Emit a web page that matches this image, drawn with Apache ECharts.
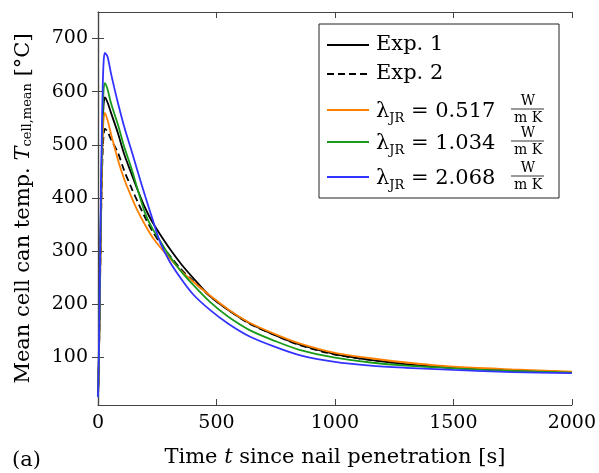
<!DOCTYPE html>
<html>
<head>
<meta charset="utf-8">
<script src="https://cdn.jsdelivr.net/npm/echarts@6/dist/echarts.min.js"></script>
<style>
  * { margin: 0; padding: 0; }
  body { background: #fff; }
  #main { width: 599px; height: 473px; }
</style>
</head>
<body>
<div id="main"></div>
<script>
// time since nail penetration [s]
var timeS = [0, 4, 8, 12, 16, 20, 24, 29, 40, 55, 84, 110, 140, 170, 200, 230, 261, 300, 350, 400, 470, 550, 640, 750, 850, 1000, 1150, 1300, 1500, 1750, 2000];
// mean cell can temperature [°C]
var exp1 = [25, 100, 230, 360, 465, 540, 578, 589, 580, 560, 522, 483, 447, 412, 380, 354, 332, 306, 276, 250, 216, 189, 164, 141, 124, 106, 95, 87, 80, 75, 72];
var exp2 = [25, 100, 220, 340, 430, 490, 520, 530, 525, 510, 485, 452, 420, 390, 362, 337, 316, 293, 266, 244, 216, 189, 163, 141, 123, 105, 95, 87, 80, 75, 72];
var lam0517 = [25, 100, 220, 340, 440, 515, 550, 560, 547, 520, 472, 436, 403, 373, 348, 326, 308, 288, 263, 243, 217, 190, 165, 143, 126, 108, 98, 90, 82, 77, 73];
var lam1034 = [25, 110, 240, 370, 480, 560, 605, 616, 605, 578, 538, 497, 457, 412, 370, 342, 320, 292, 262, 237, 205, 176, 151, 130, 114, 99, 90, 84, 79, 74, 71];
var lam2068 = [25, 120, 260, 400, 520, 610, 658, 673, 666, 634, 579, 535, 491, 446, 402, 360, 318, 282, 248, 219, 190, 163, 139, 119, 104, 91, 84, 80, 76, 72, 70];
var yTicks = [100, 200, 300, 400, 500, 600, 700];

var seriesNames = ['Exp. 1', 'Exp. 2', 'λ = 0.517', 'λ = 1.034', 'λ = 2.068'];
var seriesData = [exp1, exp2, lam0517, lam1034, lam2068];
var seriesColors = ['#000000', '#000000', '#ff8000', '#1a9a1a', '#3333ff'];
var lamValues = ['0.517', '1.034', '2.068'];

var FONT = 'DejaVu Serif';
var FS = 19;   // tick labels
var FT = 21;   // titles and legend
var axisColor = '#444';

function pairs(ys) {
  return timeS.map(function (t, i) { return [t, ys[i]]; });
}

var chart = echarts.init(document.getElementById('main'));

var series = seriesData.map(function (d, i) {
  return {
    name: seriesNames[i],
    type: 'line',
    data: pairs(d),
    showSymbol: false,
    smooth: 0.3,
    lineStyle: {
      color: seriesColors[i],
      width: 1.8,
      type: i === 1 ? [7, 4] : 'solid'
    },
    itemStyle: { color: seriesColors[i] },
    z: 2 + i
  };
});

// legend drawn as graphic (fractions in the labels)
var lg = [];
var rowY = [45, 74, 110, 142, 177];
lg.push({
  type: 'rect', shape: { x: 319, y: 24, width: 240, height: 174 },
  style: { fill: '#fff', stroke: '#222', lineWidth: 1 }, z: 10
});
rowY.forEach(function (y, i) {
  lg.push({
    type: 'line', shape: { x1: 327, y1: y, x2: 369, y2: y },
    style: { stroke: seriesColors[i], lineWidth: 1.8, lineDash: i === 1 ? [7, 4] : null }, z: 11
  });
  if (i < 2) {
    lg.push({
      type: 'text', x: 376, y: y, z: 11,
      style: { text: seriesNames[i], font: FT + 'px ' + FONT, fill: '#000', verticalAlign: 'middle' }
    });
  } else {
    lg.push({
      type: 'text', x: 376, y: y + 2, z: 11,
      style: {
        text: '{a|λ}{s|JR}{a| = ' + lamValues[i - 2] + '}',
        verticalAlign: 'middle',
        rich: {
          a: { fontFamily: FONT, fontSize: FT, fill: '#000', verticalAlign: 'bottom' },
          s: { fontFamily: FONT, fontSize: 13, fill: '#000', verticalAlign: 'bottom', padding: [0, 0, -3, 0] }
        }
      }
    });
    lg.push({
      type: 'text', x: 528, y: y - 9, z: 11,
      style: { text: 'W', font: '14px ' + FONT, fill: '#000', align: 'center', verticalAlign: 'middle' }
    });
    lg.push({
      type: 'line', shape: { x1: 511, y1: y - 1, x2: 544, y2: y - 1 },
      style: { stroke: '#000', lineWidth: 0.8 }, z: 11
    });
    lg.push({
      type: 'text', x: 528, y: y + 8, z: 11,
      style: { text: 'm K', font: '14px ' + FONT, fill: '#000', align: 'center', verticalAlign: 'middle' }
    });
  }
});
lg.push({
  type: 'text', x: 12, y: 461, z: 11,
  style: { text: '(a)', font: FT + 'px ' + FONT, fill: '#000', verticalAlign: 'middle' }
});

var labelStyle = { fontFamily: FONT, fontSize: FS, color: '#000' };

chart.setOption({
  animation: false,
  backgroundColor: '#fff',
  grid: { left: 98, right: 26, top: 12, bottom: 66, containLabel: false },
  xAxis: [{
    type: 'value', min: 0, max: 2000, interval: 500, position: 'bottom',
    name: 'Time {i|t} since nail penetration [s]',
    nameLocation: 'middle', nameGap: 42,
    nameTextStyle: {
      fontFamily: FONT, fontSize: FT, color: '#000',
      rich: { i: { fontFamily: FONT, fontSize: FT, fontStyle: 'italic', color: '#000' } }
    },
    axisLine: { show: true, lineStyle: { color: axisColor, width: 1.2 } },
    axisTick: { show: true, inside: true, length: 6, lineStyle: { color: axisColor } },
    axisLabel: Object.assign({ margin: 9, formatter: function (v) { return String(v); } }, labelStyle),
    splitLine: { show: false }
  }, {
    type: 'value', min: 0, max: 2000, interval: 500, position: 'top',
    axisLine: { show: true, lineStyle: { color: axisColor, width: 1.2 } },
    axisTick: { show: true, inside: true, length: 6, lineStyle: { color: axisColor } },
    axisLabel: { show: false },
    splitLine: { show: false }
  }],
  yAxis: [{
    type: 'value', min: 10, max: 750, position: 'left',
    name: 'Mean cell can temp. {i|T}{s|cell,mean} [°C]',
    nameLocation: 'middle', nameGap: 64, nameRotate: 90,
    nameTextStyle: {
      fontFamily: FONT, fontSize: FT, color: '#000',
      rich: {
        i: { fontFamily: FONT, fontSize: FT, fontStyle: 'italic', color: '#000' },
        s: { fontFamily: FONT, fontSize: 13, color: '#000', verticalAlign: 'bottom', padding: [7, 0, 0, 0] }
      }
    },
    axisLine: { show: true, lineStyle: { color: axisColor, width: 1.2 } },
    axisTick: { show: true, inside: true, length: 6, customValues: yTicks, lineStyle: { color: axisColor } },
    axisLabel: Object.assign({ margin: 10, customValues: yTicks }, labelStyle),
    splitLine: { show: false }
  }, {
    type: 'value', min: 10, max: 750, position: 'right',
    axisLine: { show: true, lineStyle: { color: axisColor, width: 1.2 } },
    axisTick: { show: true, inside: true, length: 6, customValues: yTicks, lineStyle: { color: axisColor } },
    axisLabel: { show: false, customValues: yTicks },
    splitLine: { show: false }
  }],
  graphic: lg,
  series: series
});
</script>
</body>
</html>
